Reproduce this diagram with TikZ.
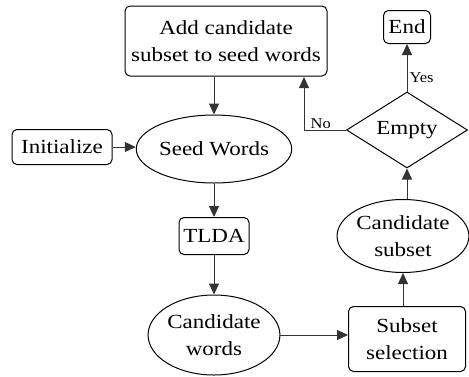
\documentclass[tikz,border=0pt]{standalone}
\usepackage{fontspec}
\newfontfamily\diagfont[FakeStretch=1.15]{Liberation Serif}
\newfontfamily\lblfont[FakeStretch=1.1]{Liberation Serif}
\usetikzlibrary{shapes.geometric,arrows.meta}
\begin{document}
\begin{tikzpicture}[x=1pt,y=-1pt,
  every node/.style={font=\diagfont\fontsize{20}{27}\selectfont, align=center, inner sep=0pt},
  rbox/.style={draw, line width=1pt, rounded corners=5pt, text=black},
  ell/.style={draw, ellipse, line width=1pt, text=black},
  conn/.style={line width=1pt, draw=black!80, -{Triangle[length=11pt,width=10pt]}},
  lbl/.style={font=\lblfont\fontsize{15}{18}\selectfont}]
\useasboundingbox (0,0) rectangle (469,376);
\node[rbox, minimum width=202pt, minimum height=70pt] (add) at (226,41) {Add candidate\\subset to seed words};
\node[rbox, minimum width=47pt, minimum height=33pt] (end) at (407,27) {End};
\node[draw, line width=1pt, shape=diamond, minimum width=121pt, minimum height=76pt, inner sep=0pt] (emp) at (407,130) {};
\node at (emp) {Empty};
\node[rbox, minimum width=100pt, minimum height=35pt] (init) at (62,147) {Initialize};
\node[ell, minimum width=124pt, minimum height=68pt] (seed) at (214,149) {Seed Words};
\node[rbox, minimum width=70pt, minimum height=37pt] (tlda) at (214,236) {TLDA};
\node[ell, minimum width=126pt, minimum height=80pt] (cw) at (214,335) {Candidate\\words};
\node[rbox, minimum width=117pt, minimum height=65pt] (ss) at (407,339) {Subset\\selection};
\node[ell, minimum width=130pt, minimum height=73pt] (cs) at (403,236) {Candidate\\subset};
\coordinate (nocorner) at (304,130);
\coordinate (noend) at (304,77);
\draw[conn] (add.south -| seed.north) -- (seed.north);
\draw[conn] (init.east) -- (seed.west |- init.east);
\draw[conn] (seed) -- (tlda);
\draw[conn] (tlda) -- (cw);
\draw[conn] (cw.east) -- (ss.west |- cw.east);
\draw[conn] (ss.north -| cs.south) -- (cs.south);
\draw[conn] (cs.north -| emp.south) -- (emp.south);
\draw[conn] (emp.north) -- node[lbl, right=2pt, pos=0.3] {Yes} (end.south);
\draw[conn] (emp.west) -- node[lbl, above=1pt, pos=0.6] {No} (nocorner) -- (noend);
\end{tikzpicture}
\end{document}
